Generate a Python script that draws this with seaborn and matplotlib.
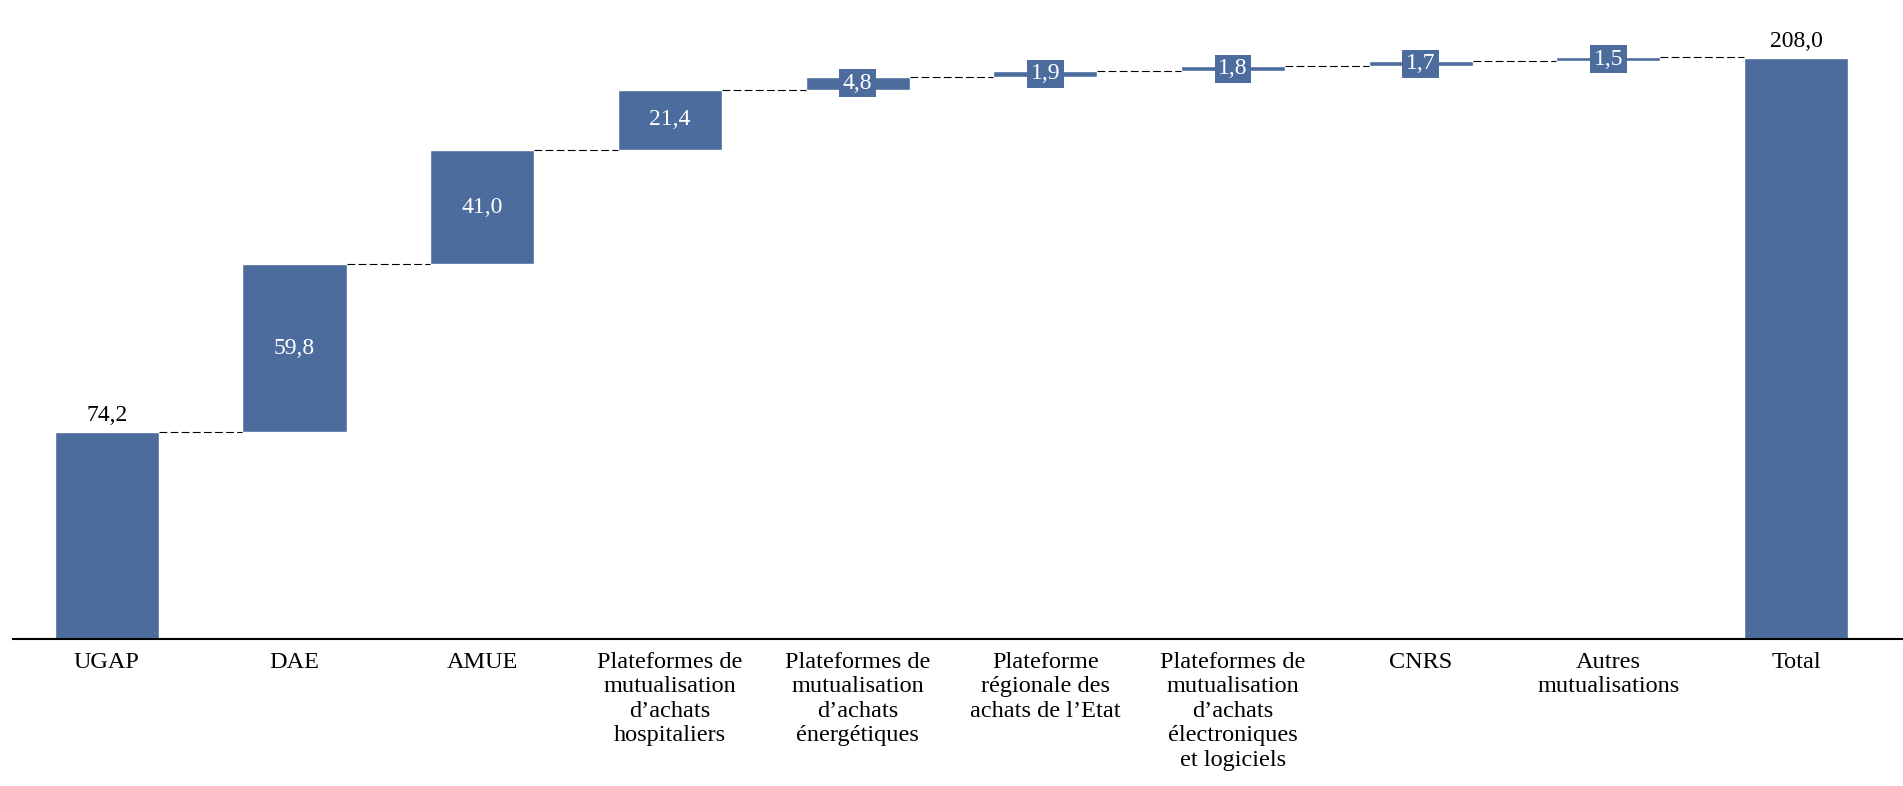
import numpy as np
import pandas as pd
import seaborn as sns
import matplotlib
matplotlib.use("Agg")
import matplotlib.pyplot as plt

categories = [
    "UGAP",
    "DAE",
    "AMUE",
    "Plateformes de\nmutualisation\nd’achats\nhospitaliers",
    "Plateformes de\nmutualisation\nd’achats\nénergétiques",
    "Plateforme\nrégionale des\nachats de l’Etat",
    "Plateformes de\nmutualisation\nd’achats\nélectroniques\net logiciels",
    "CNRS",
    "Autres\nmutualisations",
    "Total",
]
steps = [74.2, 59.8, 41.0, 21.4, 4.8, 1.9, 1.8, 1.7, 1.5]
total = 208.0

values = np.array(steps + [total])
bottoms = np.concatenate([[0], np.cumsum(steps)[:-1], [0]])
tops = bottoms + values

bar_color = "#4B6C9C"

sns.set_theme(style="white")
plt.rcParams["font.family"] = ["Liberation Serif", "DejaVu Serif"]

fig = plt.figure(figsize=(19.03, 7.86), dpi=100)
ax = fig.add_axes([13 / 1903, 1 - 639 / 786, 1890 / 1903, 639 / 786])

df = pd.DataFrame({"cat": categories, "val": values})
sns.barplot(data=df, x="cat", y="val", order=categories, bottom=bottoms,
            color=bar_color, saturation=1, width=0.555, ax=ax)

half = 0.555 / 2
# dashed connectors between bars
for i in range(len(values) - 1):
    level = tops[i]
    ax.plot([i + half, i + 1 - half], [level, level], color="black",
            lw=0.8, ls=(0, (7, 3)), zorder=1)

# value labels
for i, (b, v, t) in enumerate(zip(bottoms, values, tops)):
    txt = f"{v:.1f}".replace(".", ",")
    if i == 0 or i == len(values) - 1:
        ax.text(i, t + 2.0, txt, ha="center", va="bottom", fontsize=17,
                color="black")
    elif v > 10:
        ax.text(i, b + v / 2, txt, ha="center", va="center", fontsize=17,
                color="white")
    else:
        ax.text(i, b + v / 2, txt, ha="center", va="center", fontsize=17,
                color="white",
                bbox=dict(facecolor=bar_color, edgecolor="none", pad=2.5))

ax.set_xlim(-0.5, 9.57)
ax.set_ylim(0, 228.6)
ax.set_xlabel("")
ax.set_ylabel("")
ax.set_yticks([])
ax.tick_params(axis="x", length=0, pad=9, labelsize=17.5, colors="black")
for lbl in ax.get_xticklabels():
    lbl.set_linespacing(1.22)
    lbl.set_verticalalignment("top")
for side in ["top", "right", "left"]:
    ax.spines[side].set_visible(False)
ax.spines["bottom"].set_color("black")
ax.spines["bottom"].set_linewidth(1.5)

fig.savefig("out.png", dpi=100)
